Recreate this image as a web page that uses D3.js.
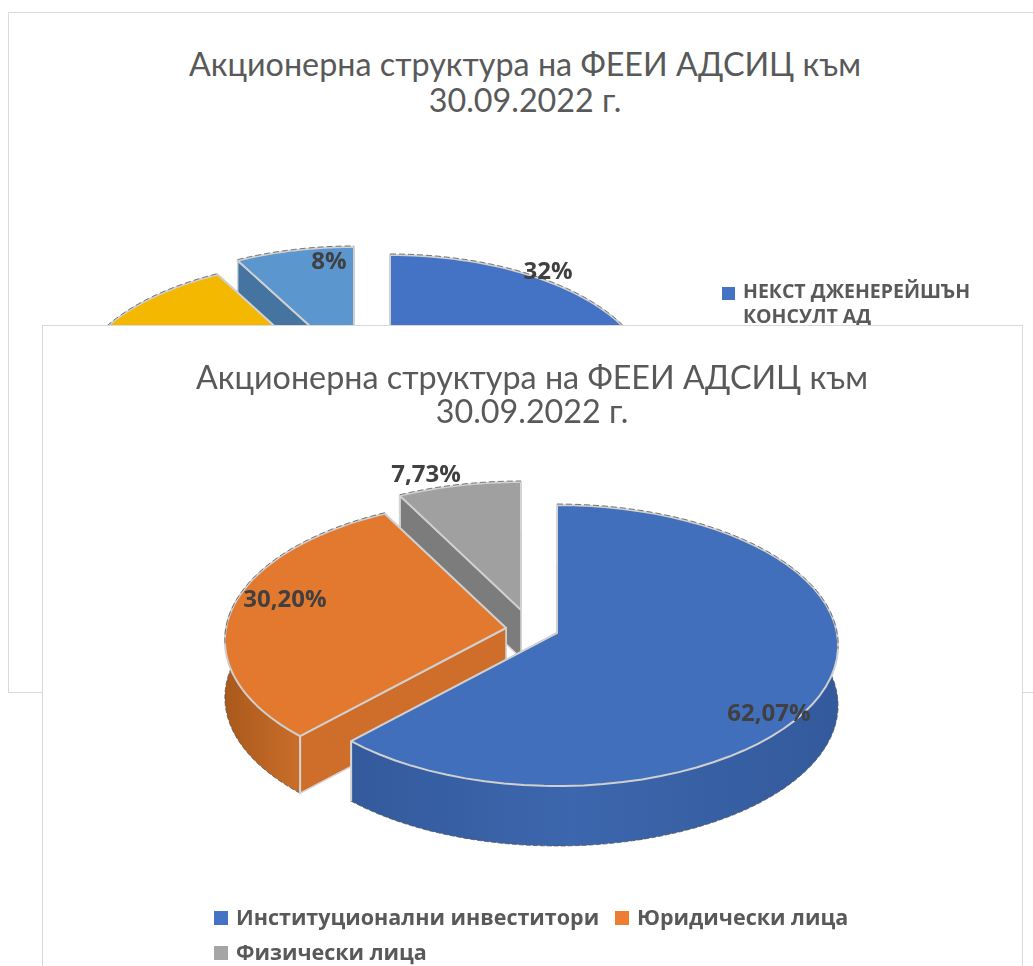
<!DOCTYPE html>
<html>
<head>
<meta charset="utf-8">
<script src="https://cdn.jsdelivr.net/npm/d3@7"></script>
<style>
  html, body { margin: 0; padding: 0; background: #fff; overflow: hidden; }
  svg { display: block; filter: blur(0.4px); }
</style>
</head>
<body>
<div class="pie"></div>
<script>
// data
var chartTitle = ['Акционерна структура на ФЕЕИ АДСИЦ към', '30.09.2022 г.'];

var frontNames = ['Институционални инвеститори', 'Юридически лица', 'Физически лица'];
var frontValues = [62.07, 30.20, 7.73];
var frontLabels = ['62,07%', '30,20%', '7,73%'];

// only the first legend row and two labels of the back chart can be seen
var backNames = ['НЕКСТ ДЖЕНЕРЕЙШЪН', 'КОНСУЛТ АД'];
var backValues = [32, 32, 28, 8];
var backLabels = ['32%', '', '', '8%'];

var width = 1033;
var height = 966;

var svg = d3.select('.pie').append('svg')
    .attr('width', width)
    .attr('height', height);

var defs = svg.append('defs');

function sideGradient(id, dark, mid) {
  var g = defs.append('linearGradient').attr('id', id);
  g.append('stop').attr('offset', '0%').attr('stop-color', dark);
  g.append('stop').attr('offset', '45%').attr('stop-color', mid);
  g.append('stop').attr('offset', '100%').attr('stop-color', dark);
}
sideGradient('sideBlue', '#335a9c', '#3c66ad');
sideGradient('sideOrange', '#a9591c', '#c96d2a');
sideGradient('sideGrey', '#777', '#808080');
sideGradient('sideYellow', '#b58c00', '#c49a00');
sideGradient('sideSky', '#42729f', '#46769f');

// perspective of the tilted disc, angle is clockwise from the top
var tilt = 0.089;
function rim(angle, apex, scale) {
  var s = Math.sin(angle), c = Math.cos(angle);
  var w = 1 + tilt * c;
  return [apex[0] + scale * 280 * s / w, apex[1] - scale * 139.4 * c / w];
}

var line = d3.line();

function cutWall(g, o, p) {
  g.append('path')
    .attr('d', line([o.apex, p, [p[0], p[1] + o.depth], [o.apex[0], o.apex[1] + o.depth]]) + 'Z')
    .attr('fill', o.cut)
    .attr('stroke', '#d4d4d4')
    .attr('stroke-width', 1.5);
}

function drawSlice(layer, d, o) {
  var steps = d3.range(0, 61).map(i => d.startAngle + (d.endAngle - d.startAngle) * i / 60);
  var arcPts = steps.map(a => rim(a, o.apex, o.scale));
  var drop = pts => pts.map(p => [p[0], p[1] + o.depth]);
  var g = layer.append('g');

  // walls first, the top face paints over the hidden parts
  cutWall(g, o, arcPts[60]);

  g.append('path')
    .attr('d', line(arcPts.concat(drop(arcPts).reverse())) + 'Z')
    .attr('fill', `url(#${o.side})`);
  g.append('path')
    .attr('d', line(drop(arcPts)))
    .attr('fill', 'none')
    .attr('stroke', '#555')
    .attr('stroke-width', 0.8)
    .attr('stroke-dasharray', '5 2');

  cutWall(g, o, arcPts[0]);

  var face = [o.apex].concat(arcPts);
  g.append('path')
    .attr('d', line(face) + 'Z')
    .attr('fill', o.top)
    .attr('stroke', '#d0d0d0')
    .attr('stroke-width', 2)
    .attr('stroke-linejoin', 'round');
  g.append('path')
    .attr('d', line(arcPts.filter(p => p[1] < o.apex[1] + 20)))
    .attr('fill', 'none')
    .attr('stroke', '#555')
    .attr('stroke-width', 0.8)
    .attr('stroke-dasharray', '6 3')
    .attr('transform', 'translate(0,-1)');

  // vertical edges at the visible rim corners
  o.edges.forEach(i => {
    var p = arcPts[i];
    g.append('line')
      .attr('x1', p[0]).attr('y1', p[1])
      .attr('x2', p[0]).attr('y2', p[1] + o.depth)
      .attr('stroke', '#d4d4d4')
      .attr('stroke-width', 2);
  });
}

var pie = d3.pie().sort(null).value(d => d).startAngle(0).endAngle(2 * Math.PI);

var titleFont = 'Lato, "Open Sans", sans-serif';
var labelFont = '"Open Sans", "DejaVu Sans", sans-serif';

function addTitle(cx, y1, y2) {
  [y1, y2].forEach((y, i) => {
    svg.append('text')
      .attr('x', cx).attr('y', y)
      .attr('text-anchor', 'middle')
      .attr('font-family', titleFont)
      .attr('font-size', 32.3)
      .attr('fill', '#595959')
      .text(chartTitle[i]);
  });
}

function addLabel(x, y, txt) {
  svg.append('text')
    .attr('x', x).attr('y', y)
    .attr('text-anchor', 'middle')
    .attr('font-family', labelFont)
    .attr('font-weight', 700)
    .attr('font-size', 24)
    .attr('fill', '#404040')
    .text(txt);
}

// back chart
svg.append('rect')
  .attr('x', 8.5).attr('y', 12.5).attr('width', 1060).attr('height', 680)
  .attr('fill', '#fff').attr('stroke', '#d9d9d9');

addTitle(525, 76, 112);

var backStyle = [
  {apex: [390, 374], top: '#4472c4', side: 'sideBlue', cut: '#34609f', edges: []},
  {apex: [370, 385], top: '#ed7d31', side: 'sideOrange', cut: '#c96d2a', edges: []},
  {apex: [334, 380], top: '#f4b800', side: 'sideYellow', cut: '#c49a00', edges: []},
  {apex: [354, 366], top: '#5b96cf', side: 'sideSky', cut: '#44749f', edges: []}
];
var backLayer = svg.append('g');
var backArcs = pie(backValues);
[3, 1, 2, 0].forEach(i => {
  var o = Object.assign({scale: 0.93, depth: 50}, backStyle[i]);
  drawSlice(backLayer, backArcs[i], o);
});

addLabel(548, 279, backLabels[0]);
addLabel(329, 269, backLabels[3]);

svg.append('rect')
  .attr('x', 722).attr('y', 287).attr('width', 13).attr('height', 13)
  .attr('fill', '#4472c4');
backNames.forEach((t, i) => {
  svg.append('text')
    .attr('x', 743).attr('y', 298 + i * 25)
    .attr('font-family', labelFont)
    .attr('font-weight', 700)
    .attr('font-size', 19.5)
    .attr('fill', '#595959')
    .text(t);
});

// front chart
svg.append('rect')
  .attr('x', 42.5).attr('y', 325.5).attr('width', 980).attr('height', 700)
  .attr('fill', '#fff').attr('stroke', '#d9d9d9');

addTitle(532, 389, 423);

var frontStyle = [
  {apex: [557, 633], depth: 60, top: '#426fbb', side: 'sideBlue', cut: '#3a63a9', edges: [0, 60]},
  {apex: [506, 628], depth: 57, top: '#e2792f', side: 'sideOrange', cut: '#cf6e2b', edges: [0]},
  {apex: [521, 610], depth: 48, top: '#a0a0a0', side: 'sideGrey', cut: '#7c7c7c', edges: [0, 60]}
];
var frontLayer = svg.append('g');
var frontArcs = pie(frontValues);
[2, 1, 0].forEach(i => {
  var o = Object.assign({scale: 1}, frontStyle[i]);
  drawSlice(frontLayer, frontArcs[i], o);
});

addLabel(769, 721, frontLabels[0]);
addLabel(285, 607, frontLabels[1]);
addLabel(426, 482, frontLabels[2]);

// legend
var legendColor = d3.scaleOrdinal().domain(frontNames).range(['#4472c4', '#ed7d31', '#a5a5a5']);
var legendX = d3.scaleOrdinal().domain(frontNames).range([214, 615, 214]);
var legendY = d3.scaleOrdinal().domain(frontNames).range([911, 911, 946]);

var legend = svg.selectAll('.legend')
  .data(frontNames)
  .enter().append('g')
    .attr('class', 'legend')
    .attr('transform', d => `translate(${legendX(d)},${legendY(d)})`);

legend.append('rect')
  .attr('width', 14).attr('height', 14)
  .attr('fill', d => legendColor(d));

legend.append('text')
  .attr('x', 22).attr('y', 14)
  .attr('font-family', labelFont)
  .attr('font-weight', 700)
  .attr('font-size', 21.5)
  .attr('fill', '#595959')
  .text(d => d);
</script>
</body>
</html>
